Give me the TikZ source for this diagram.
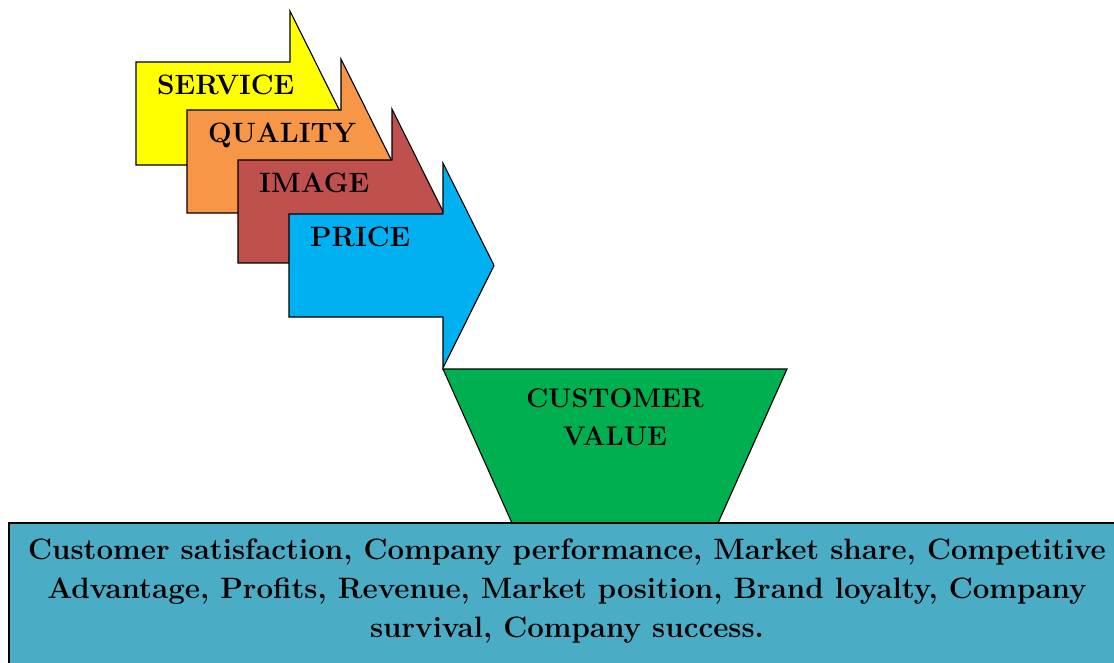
\documentclass[tikz,border=0pt]{standalone}
\usepackage{tikz}
\definecolor{svcyellow}{RGB}{255,255,0}
\definecolor{qualorange}{RGB}{247,150,70}
\definecolor{imgred}{RGB}{192,80,77}
\definecolor{prcblue}{RGB}{0,176,240}
\definecolor{cvgreen}{RGB}{0,176,80}
\definecolor{outcblue}{RGB}{75,172,198}

\begin{document}
\begin{tikzpicture}[x=1pt, y=-1pt,
    shape line/.style = {draw=black, line width=1.1pt, line join=miter},
    big label/.style = {font=\fontsize{28}{38}\selectfont\bfseries, inner sep=0pt}]
    \useasboundingbox (0,0) rectangle (1114,663);
    % the four arrows, back to front
    \foreach \L/\T/\col/\txt/\nm in {136/62/svcyellow/SERVICE/svc, 187/110/qualorange/QUALITY/qual,
                                     238/160/imgred/IMAGE/img, 289/214/prcblue/PRICE/prc}{
        \draw[shape line, fill=\col] (\L,\T) -- ++(154,0) -- ++(0,-51) -- ++(51,102.5)
            -- ++(-51,102.5) -- ++(0,-51) -- ++(-154,0) -- cycle;
        \node[big label, anchor=base west] (\nm) at (\L+21,\T+33) {\txt};
    }
    \draw[shape line, fill=cvgreen] (443,369) -- (787,369) -- (718,523) -- (512,523) -- cycle;
    % base anchor sits on the last line
    \node[big label, font=\fontsize{27}{38}\selectfont\bfseries, align=center, anchor=base] (cv)
        at (615,445) {CUSTOMER\\VALUE};
    \draw[shape line, fill=outcblue] (9,523) rectangle (1130,680);
    \node[big label, font=\fontsize{29.5}{39}\selectfont\bfseries, align=center, anchor=base] (outc)
        at (567,637)
        {Customer satisfaction, Company performance, Market share, Competitive\\
         Advantage, Profits, Revenue, Market position, Brand loyalty, Company\\
         survival, Company success.};
\end{tikzpicture}
\end{document}
